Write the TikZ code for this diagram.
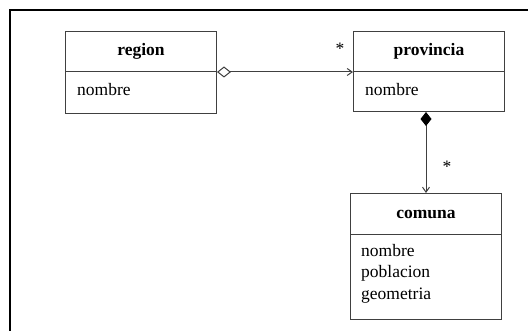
\documentclass[tikz,border=0pt]{standalone}
\usepackage{fontspec}
\setmainfont{Liberation Serif}
\usetikzlibrary{arrows.meta}
\definecolor{umlline}{HTML}{404040}
\tikzset{
  part/.style={draw=umlline, line width=1pt, rectangle, inner sep=0pt,
    minimum width=151pt, anchor=north west},
  title/.style={font=\fontsize{17.5}{18}\selectfont\bfseries},
  attrs/.style={font=\fontsize{17.5}{21.5}\selectfont, align=left,
    anchor=north west, inner sep=0pt},
  link/.style={draw=umlline, line width=1pt},
  mult/.style={font=\fontsize{17.5}{18}\selectfont, inner sep=0pt},
}
\begin{document}
\begin{tikzpicture}[x=1pt,y=-1pt]
  \useasboundingbox (0,0) rectangle (528,331);
  % outer frame
  \draw[line width=2.2pt, line cap=rect] (528,10) -- (10,10) -- (10,331);

  % class region
  \node[part, minimum height=40pt] (rt) at (65,31) {};
  \node[part, minimum height=42pt] (ra) at (65,71) {};
  \node[title] (rtt) at (rt.center) {region};
  \node[attrs] (rat) at (77,83) {nombre};

  % class provincia
  \node[part, minimum height=40pt] (pt) at (353,31) {};
  \node[part, minimum height=40pt] (pa) at (353,71) {};
  \node[title] (ptt) at (pt.center) {provincia};
  \node[attrs] (pat) at (365,83) {nombre};

  % class comuna
  \node[part, minimum height=41pt] (ct) at (350,193) {};
  \node[part, minimum height=85pt] (ca) at (350,234) {};
  \node[title] (ctt) at (ct.center) {comuna};
  \node[attrs] (cat) at (361,244) {nombre\\poblacion\\geometria};

  % aggregation region -> provincia
  \draw[link, {Diamond[open, length=14pt, width=11pt, line width=1pt]}-{Straight Barb[length=5pt, width=7pt, line width=1pt]}]
    (rt.south east) -- (pt.south west);
  \node[mult] (m1) at (340,49) {*};

  % composition provincia -> comuna
  \draw[link, {Diamond[length=14pt, width=11pt, fill=black, color=black]}-{Straight Barb[length=5pt, width=7pt, line width=1pt]}]
    (ct.north |- pa.south) -- (ct.north);
  \node[mult] (m2) at (447,167) {*};
\end{tikzpicture}
\end{document}
